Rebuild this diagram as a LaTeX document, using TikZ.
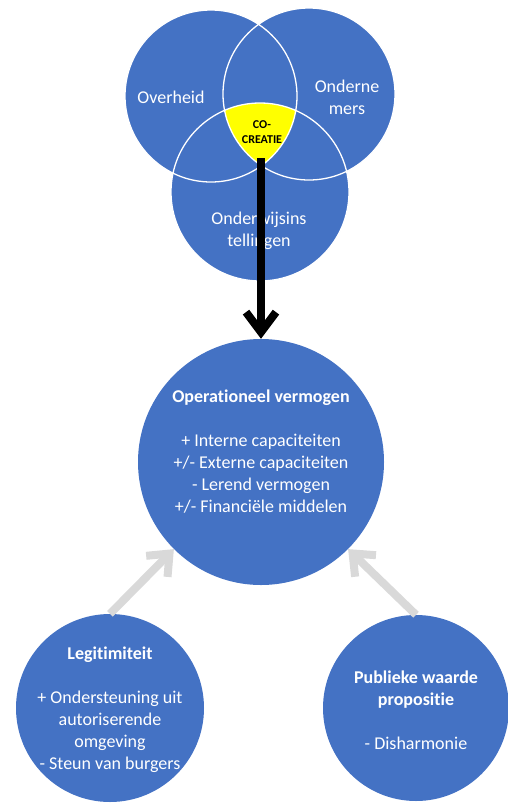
\documentclass[tikz,border=0pt]{standalone}
\usepackage{fontspec}
\setmainfont{Carlito}[Ligatures=NoCommon]
\usetikzlibrary{arrows.meta}
\definecolor{ublue}{HTML}{4472C4}
\definecolor{ugray}{HTML}{D9D9D9}
\definecolor{uyellow}{HTML}{FFFF00}

\begin{document}
\begin{tikzpicture}[x=1pt,y=-1pt,
  disc/.style={circle, fill=ublue, inner sep=0pt, minimum size=#1},
  rim/.style={draw=white, line width=1.3pt},
  txt/.style={text=white, align=center, font=\fontsize{18}{22}\selectfont},
  cotxt/.style={text=black, align=center, font=\bfseries\fontsize{12}{15}\selectfont},
  mainflow/.style={draw=black, line width=8pt, -{Straight Barb[length=20pt,width=30pt]}},
  sideflow/.style={draw=ugray, line width=8pt, -{Straight Barb[length=18pt,width=30pt]}},
]
\useasboundingbox (0,0) rectangle (508,803);

% three overlapping partners
\node[disc=172pt] (gov) at (211,96) {};
\node[disc=172pt] (biz) at (309,94) {};
\node[disc=178pt] (edu) at (260,192) {};

% common overlap
\begin{scope}
  \clip (gov.center) circle[radius=86pt];
  \clip (biz.center) circle[radius=86pt];
  \fill[uyellow] (edu.center) circle[radius=89pt];
\end{scope}

% outlines on top of all fills
\draw[rim] (gov.center) circle[radius=86pt];
\draw[rim] (biz.center) circle[radius=86pt];
\draw[rim] (edu.center) circle[radius=89pt];

\node[txt] (govt) at (171,97) {Overheid};
\node[txt] (bizt) at (347,97) {Onderne\\mers};
\node[txt] (edut) at (259,231) {Onderwijsins\\tellingen};
\node[cotxt] (co) at (262,132) {CO-\\CREATIE};

% central capability
\node[disc=246pt] (ops) at (261,462) {};
\node[txt] (opst) at (261,452) {\textbf{Operationeel vermogen}\\[22pt]
  + Interne capaciteiten\\
  +/- Externe capaciteiten\\
  - Lerend vermogen\\
  +/- Financiële middelen};

% supporting factors
\node[disc=188pt] (leg) at (110,708) {};
\node[txt] (legt) at (110,710) {\textbf{Legitimiteit}\\[22pt]
  + Ondersteuning uit\\
  autoriserende\\
  omgeving\\
  - Steun van burgers};

\node[disc=186pt] (pub) at (416,708) {};
\node[txt] (pubt) at (416,710) {\textbf{Publieke waarde}\\
  \textbf{propositie}\\[22pt]
  - Disharmonie};

% connectors
\coordinate (src) at (261,158);
\draw[mainflow] (src) -- (ops.north);
\draw[sideflow] (leg.north) -- (ops.225);
\draw[sideflow] (pub.north) -- (ops.315);
\end{tikzpicture}
\end{document}
